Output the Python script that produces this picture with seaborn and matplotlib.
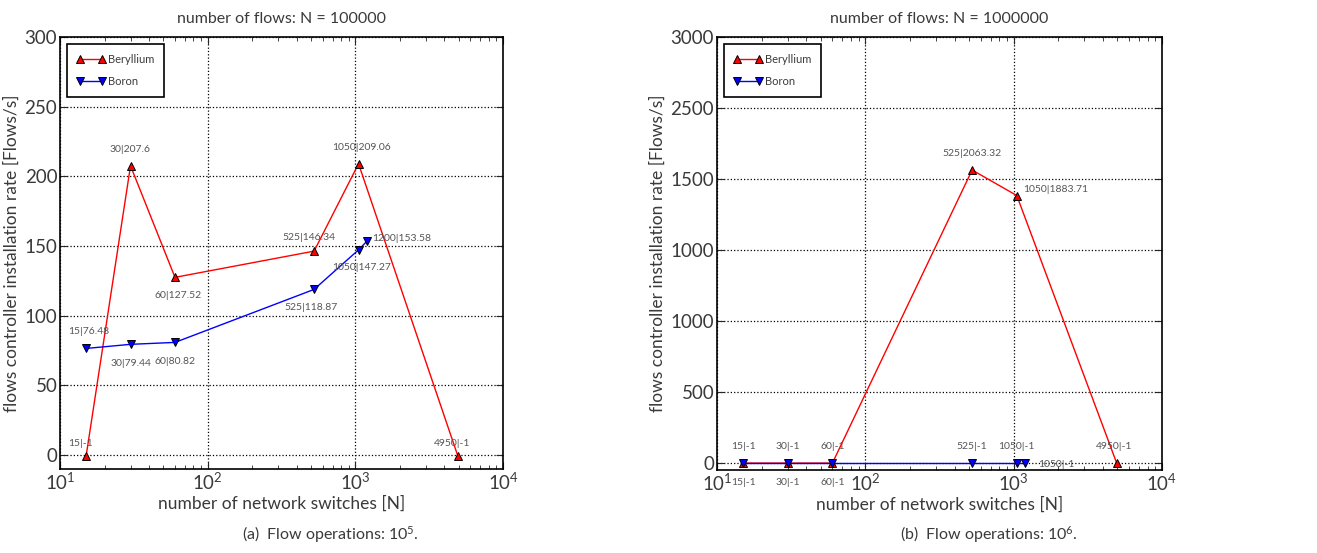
import numpy as np
import pandas as pd
import matplotlib
matplotlib.use("Agg")
import matplotlib.pyplot as plt
import seaborn as sns

# switches on x, rate on y
be_x_a = [15, 30, 60, 525, 1050, 4950]
be_y_a = [-1, 207.6, 127.52, 146.34, 209.06, -1]
bo_x_a = [15, 30, 60, 525, 1050, 1200]
bo_y_a = [76.48, 79.44, 80.82, 118.87, 147.27, 153.58]

be_x_b = [15, 30, 60, 525, 1050, 4950]
be_y_b = [-1, -1, -1, 2063.32, 1883.71, -1]
bo_x_b = [15, 30, 60, 525, 1050, 1200]
bo_y_b = [-1, -1, -1, -1, -1, -1]

# point labels as printed on the chart
be_lab_a = ["15|-1", "30|207.6", "60|127.52", "525|146.34", "1050|209.06", "4950|-1"]
bo_lab_a = ["15|76.48", "30|79.44", "60|80.82", "525|118.87", "1050|147.27", "1200|153.58"]
be_lab_b = ["15|-1", "30|-1", "60|-1", "525|2063.32", "1050|1883.71", "4950|-1"]
bo_lab_b = ["15|-1", "30|-1", "60|-1", "525|-1", "1050|-1", "1050|-1"]

yticks_a = [0, 50, 100, 150, 200, 250, 300]
yticks_b = [0, 500, 1000, 1500, 2000, 2500, 3000]
ytick_labels_b = ["0", "500", "1000", "1000", "1500", "2500", "3000"]

# label offsets in points (dx, dy)
be_off_a = [(-4, 9), (0, 12), (2, -13), (-4, 10), (2, 12), (-4, 9)]
bo_off_a = [(2, 12), (0, -14), (0, -14), (-2, -13), (2, -13), (25, 2)]
be_off_b = [(0, -14), (0, -14), (0, -14), (0, 12), (28, 4), (-2, 12)]
bo_off_b = [(0, 12), (0, 12), (0, 12), (0, 12), (0, 12), (22, -1)]

sns.set_style("ticks")
plt.rcParams["font.family"] = ["Lato", "DejaVu Sans"]
plt.rcParams["mathtext.fontset"] = "custom"
plt.rcParams["mathtext.rm"] = "Lato"
plt.rcParams["mathtext.it"] = "Lato:italic"

fig = plt.figure(figsize=(13.17, 5.53), dpi=100)
ax1 = fig.add_axes([0.0456, 0.152, 0.3364, 0.781])
ax2 = fig.add_axes([0.5444, 0.150, 0.3379, 0.783])

txt = "#3a3a3a"


def draw(ax, bx, by, ox, oy, bl, ol, boff, ooff, title, yt, ylim):
    d1 = pd.DataFrame({"x": bx, "y": by})
    d2 = pd.DataFrame({"x": ox, "y": oy})
    sns.lineplot(data=d1, x="x", y="y", ax=ax, color="red", lw=1, marker="^",
                 markersize=6, markerfacecolor="red", markeredgecolor="black",
                 markeredgewidth=0.7, sort=False, estimator=None, label="Beryllium")
    sns.lineplot(data=d2, x="x", y="y", ax=ax, color="blue", lw=1, marker="v",
                 markersize=6, markerfacecolor="blue", markeredgecolor="black",
                 markeredgewidth=0.7, sort=False, estimator=None, label="Boron")
    for x, y, s, o in zip(bx, by, bl, boff):
        ax.annotate(s, (x, y), xytext=o, textcoords="offset points", ha="center",
                    va="center", fontsize=7.5, color="#555555")
    for x, y, s, o in zip(ox, oy, ol, ooff):
        ax.annotate(s, (x, y), xytext=o, textcoords="offset points", ha="center",
                    va="center", fontsize=7.5, color="#555555")
    ax.set_xscale("log")
    ax.set_xlim(10, 10000)
    ax.set_ylim(*ylim)
    ax.set_yticks(yt)
    ax.grid(True, which="major", ls=":", color="black", lw=0.9)
    ax.tick_params(direction="in", top=True, right=True, which="both", labelsize=13.5,
                   labelcolor=txt)
    ax.tick_params(which="major", length=5, pad=2)
    ax.tick_params(which="minor", length=3)
    ax.set_title(title, fontsize=11.5, color=txt, pad=10)
    ax.set_xlabel("number of network switches [N]", fontsize=12.5, color=txt, labelpad=2)
    ax.set_ylabel("flows controller installation rate [Flows/s]", fontsize=12.5, color=txt, labelpad=3)
    for sp in ax.spines.values():
        sp.set_color("black")
        sp.set_linewidth(1.2)
    leg = ax.legend(loc="upper left", fontsize=8, numpoints=2, fancybox=False,
                    edgecolor="black", framealpha=1, handlelength=2.6,
                    borderpad=0.9, labelspacing=1.0, handletextpad=0.2,
                    borderaxespad=0.6)
    for t in leg.get_texts():
        t.set_color(txt)
    leg.get_frame().set_linewidth(1.2)


draw(ax1, be_x_a, be_y_a, bo_x_a, bo_y_a, be_lab_a, bo_lab_a, be_off_a, bo_off_a,
     "number of flows: N = 100000", yticks_a, (-10, 300))
draw(ax2, be_x_b, be_y_b, bo_x_b, bo_y_b, be_lab_b, bo_lab_b, be_off_b, bo_off_b,
     "number of flows: N = 1000000", yticks_b, (-50, 3000))
ax2.set_yticklabels(ytick_labels_b)

fig.text(0.251, 0.033, r"(a)  Flow operations: $10^5$.", ha="center", va="center", fontsize=11.5, color=txt)
fig.text(0.751, 0.033, r"(b)  Flow operations: $10^6$.", ha="center", va="center", fontsize=11.5, color=txt)

fig.savefig("out.png", dpi=100)
